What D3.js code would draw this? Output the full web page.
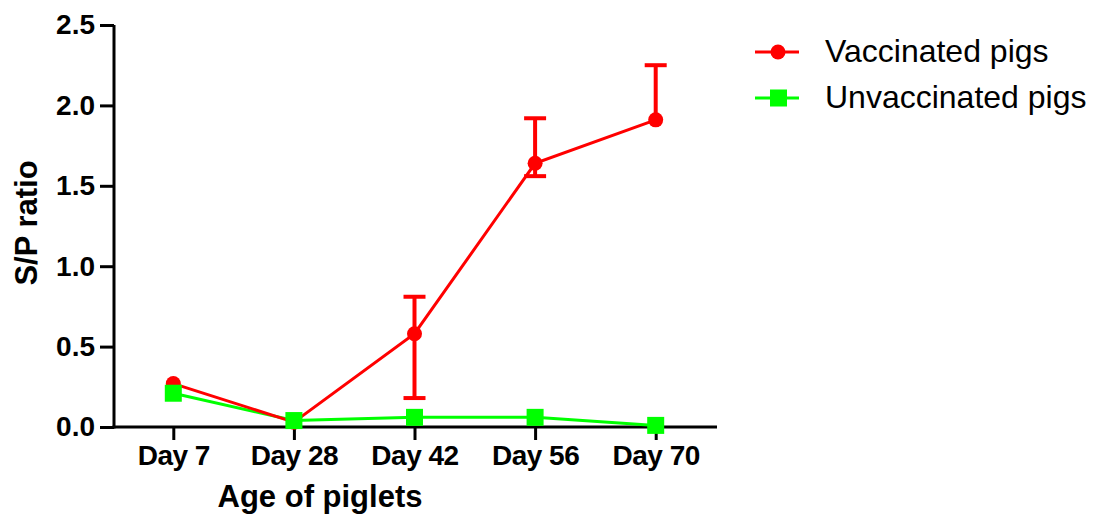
<!DOCTYPE html>
<html>
<head>
<meta charset="utf-8">
<script src="https://cdn.jsdelivr.net/npm/d3@7"></script>
<style>
    html, body { margin: 0; padding: 0; background: #fff; }
    svg { display: block; font-family: "Liberation Sans", Arial, sans-serif; }
</style>
</head>
<body>
<svg id="chart" width="1094" height="515"></svg>
<script>
const days = ["Day 7", "Day 28", "Day 42", "Day 56", "Day 70"];
const yTicks = [0, 0.5, 1.0, 1.5, 2.0, 2.5];

const vaccinated = [0.27, 0.03, 0.58, 1.64, 1.91];
const vaccinatedErrUp = [0, 0, 0.23, 0.28, 0.34];
const vaccinatedErrDown = [0, 0, 0.40, 0.08, 0];

const unvaccinated = [0.21, 0.04, 0.06, 0.06, 0.01];

const seriesNames = ["Vaccinated pigs", "Unvaccinated pigs"];
const RED = "#ff0000";
const GREEN = "#00ff00";

const svg = d3.select("#chart");

const x = d3.scalePoint().domain(days).range([113, 716]).padding(0.5);
const y = d3.scaleLinear().domain([0, 2.5]).range([427, 25]);

// axes
const yAxis = svg.append("g")
    .attr("transform", "translate(114,0)")
    .call(d3.axisLeft(y).tickValues(yTicks).tickFormat(d3.format(".1f")).tickSize(14).tickSizeOuter(0).tickPadding(5));

const xAxis = svg.append("g")
    .attr("transform", "translate(0,427)")
    .call(d3.axisBottom(x).tickSize(13).tickSizeOuter(0).tickPadding(5));

[xAxis, yAxis].forEach(ax => {
    ax.selectAll("path, line").attr("stroke", "#000").attr("stroke-width", 3);
    ax.selectAll("text")
        .attr("fill", "#000")
        .style("font-size", "28px")
        .style("font-weight", "bold")
        .style("font-family", "'Liberation Sans', Arial, sans-serif");
});
xAxis.selectAll("text").style("letter-spacing", "-0.5px");
yAxis.select(".domain").attr("d", "M0,25V428.5");
xAxis.select(".domain").attr("d", "M112.5,0H717");

// axis titles
svg.append("text")
    .attr("x", 320).attr("y", 507)
    .attr("text-anchor", "middle")
    .style("font-size", "31px").style("font-weight", "bold")
    .text("Age of piglets");

svg.append("text")
    .attr("transform", "translate(37,223) rotate(-90)")
    .attr("text-anchor", "middle")
    .style("font-size", "31px").style("font-weight", "bold")
    .text("S/P ratio");

const line = d3.line().x((d, i) => x(days[i])).y(d => y(d));

// vaccinated error bars
const errG = svg.append("g").attr("stroke", RED).attr("fill", "none");
vaccinated.forEach((v, i) => {
    const cx = x(days[i]);
    const up = vaccinatedErrUp[i], down = vaccinatedErrDown[i];
    if (up > 0) {
        errG.append("line").attr("x1", cx).attr("x2", cx).attr("y1", y(v)).attr("y2", y(v + up)).attr("stroke-width", 4);
        errG.append("line").attr("x1", cx - 11).attr("x2", cx + 11).attr("y1", y(v + up)).attr("y2", y(v + up)).attr("stroke-width", 4);
    }
    if (down > 0) {
        errG.append("line").attr("x1", cx).attr("x2", cx).attr("y1", y(v)).attr("y2", y(v - down)).attr("stroke-width", 4);
        errG.append("line").attr("x1", cx - 11).attr("x2", cx + 11).attr("y1", y(v - down)).attr("y2", y(v - down)).attr("stroke-width", 4);
    }
});

// unvaccinated line
svg.append("path")
    .datum(unvaccinated)
    .attr("d", line)
    .attr("fill", "none").attr("stroke", GREEN).attr("stroke-width", 3);

// vaccinated line + circles
svg.append("path")
    .datum(vaccinated)
    .attr("d", line)
    .attr("fill", "none").attr("stroke", RED).attr("stroke-width", 3);

svg.append("g").selectAll("circle")
    .data(vaccinated)
    .enter().append("circle")
    .attr("cx", (d, i) => x(days[i]))
    .attr("cy", d => y(d))
    .attr("r", 7.5)
    .attr("fill", RED);

// unvaccinated squares
svg.append("g").selectAll("rect")
    .data(unvaccinated)
    .enter().append("rect")
    .attr("x", (d, i) => x(days[i]) - 8.5)
    .attr("y", d => y(d) - 8.5)
    .attr("width", 17).attr("height", 17)
    .attr("fill", GREEN);

// legend
const legend = svg.append("g");
const legendRows = [
    { name: seriesNames[0], color: RED, shape: "circle", y: 52 },
    { name: seriesNames[1], color: GREEN, shape: "square", y: 98 }
];
legendRows.forEach(r => {
    const g = legend.append("g").attr("transform", `translate(0,${r.y})`);
    g.append("line").attr("x1", 755).attr("x2", 799).attr("stroke", r.color).attr("stroke-width", 3);
    if (r.shape === "circle") {
        g.append("circle").attr("cx", 778).attr("r", 7.5).attr("fill", r.color);
    } else {
        g.append("rect").attr("x", 770).attr("y", -8.5).attr("width", 17).attr("height", 17).attr("fill", r.color);
    }
    g.append("text")
        .attr("x", 825).attr("y", 10)
        .style("font-size", "32px")
        .attr("fill", "#000")
        .text(r.name);
});
</script>
</body>
</html>
